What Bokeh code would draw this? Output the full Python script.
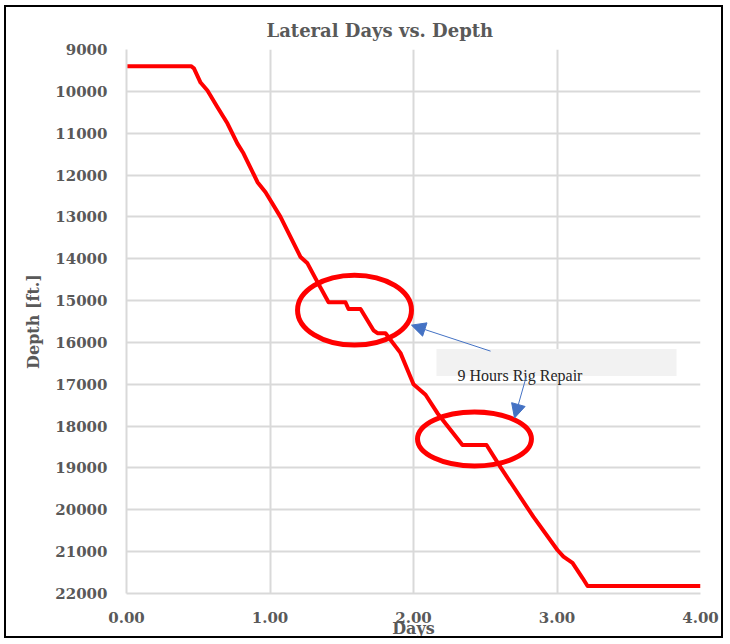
from bokeh.plotting import figure
from bokeh.models import Range1d, FixedTicker, NumeralTickFormatter, Arrow, NormalHead
from bokeh.embed import file_html
from bokeh.resources import INLINE
from bokeh.core.properties import value

# ---- data ----
days = [0.00, 0.45, 0.47, 0.516, 0.564, 0.634, 0.704, 0.773, 0.815, 0.913, 0.969,
        1.073, 1.213, 1.261, 1.331, 1.408, 1.526, 1.547, 1.631, 1.721, 1.749, 1.805,
        1.909, 2.000, 2.084, 2.167, 2.341, 2.509, 2.606, 2.836, 3.003, 3.045, 3.108,
        3.178, 3.213, 4.00]
depth = [9400, 9400, 9450, 9790, 9980, 10380, 10770, 11250, 11480, 12170, 12410,
         13000, 13960, 14110, 14560, 15040, 15040, 15200, 15200, 15710, 15780, 15780,
         16250, 17000, 17250, 17690, 18450, 18450, 18980, 20170, 20960, 21120, 21270,
         21630, 21820, 21820]

x_ticks = [0, 1, 2, 3, 4]
y_ticks = [9000, 10000, 11000, 12000, 13000, 14000, 15000, 16000, 17000, 18000,
           19000, 20000, 21000, 22000]

title_text = "Lateral Days vs. Depth"
x_label = "Days"
y_label = "Depth [ft.]"
note_text = ["9 Hours Rig Repair"]

# annotation geometry (data units)
ring_x = [1.589, 2.425]
ring_y = [15229, 18308]
ring_w = [0.794, 0.794]
ring_h = [1671, 1289]

note_left = [2.160]
note_right = [3.833]
note_top = [16160]
note_bottom = [16804]
note_x = [2.307]
note_y = [16790]

arrow_x_start = [2.537, 2.787]
arrow_y_start = [16208, 16804]
arrow_x_end = [1.986, 2.704]
arrow_y_end = [15587, 17807]

GRAY_TXT = "#595959"
GRID = "#D9D9D9"
FONT = "DejaVu Serif"

W, H = 719, 633
p = figure(width=W, height=H, output_backend="svg", toolbar_location=None,
           x_range=Range1d(0, 4), y_range=Range1d(22000, 9000),
           min_border_left=120, min_border_right=25, min_border_top=42,
           min_border_bottom=46,
           styles={"border": "2px solid black",
                   "margin-left": "4px", "margin-top": "5px"})

p.background_fill_color = "white"
p.border_fill_color = "white"
p.outline_line_color = None

p.title.text = title_text
p.title.align = "left"
p.title.offset = 140
p.title.text_font = FONT
p.title.text_font_size = "18px"
p.title.text_font_style = "bold"
p.title.text_color = GRAY_TXT
p.title.standoff = 17

for ax in (p.xaxis[0], p.yaxis[0]):
    ax.major_tick_line_color = None
    ax.minor_tick_line_color = None
    ax.axis_line_color = GRID
    ax.axis_line_width = 2
    ax.major_label_text_font = FONT
    ax.major_label_text_font_size = "15px"
    ax.major_label_text_font_style = "bold"
    ax.major_label_text_color = GRAY_TXT
    ax.axis_label_text_font = FONT
    ax.axis_label_text_font_size = "16px"
    ax.axis_label_text_font_style = "bold"
    ax.axis_label_text_color = GRAY_TXT

p.xaxis.ticker = FixedTicker(ticks=x_ticks)
p.yaxis.ticker = FixedTicker(ticks=y_ticks)
p.xaxis.formatter = NumeralTickFormatter(format="0.00")
p.yaxis.formatter = NumeralTickFormatter(format="0")
p.xaxis.axis_label = x_label
p.yaxis.axis_label = y_label
p.xaxis.major_label_standoff = 12
p.xaxis.axis_label_standoff = -7
p.yaxis.major_label_standoff = 13
p.yaxis.axis_label_standoff = 9

p.xgrid.grid_line_color = GRID
p.ygrid.grid_line_color = GRID
p.xgrid.grid_line_width = 2
p.ygrid.grid_line_width = 2

p.line(days, depth, line_color="#FF0000", line_width=4, line_join="round")

p.ellipse(x=ring_x, y=ring_y, width=ring_w, height=ring_h,
          fill_color=None, line_color="#FF0000", line_width=5)

p.quad(left=note_left, right=note_right, top=note_top, bottom=note_bottom,
       fill_color="#F2F2F2", line_color=None)
p.text(x=note_x, y=note_y, text=note_text, text_font=value("Liberation Serif"),
       text_font_size="16px", text_color="#262626", text_baseline="alphabetic")

for xs, ys, xe, ye in zip(arrow_x_start, arrow_y_start, arrow_x_end, arrow_y_end):
    p.add_layout(Arrow(x_start=xs, y_start=ys, x_end=xe, y_end=ye,
                       line_color="#4472C4", line_width=1,
                       end=NormalHead(size=14, fill_color="#4472C4",
                                      line_color="#4472C4")))

open("out.html", "w").write(file_html(p, INLINE))
